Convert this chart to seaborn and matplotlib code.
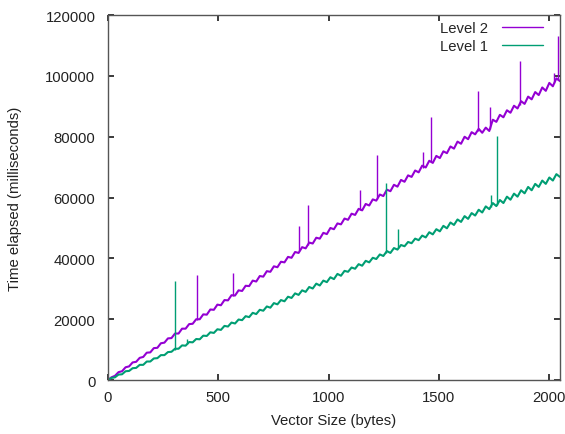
import matplotlib
import numpy as np
import pandas as pd
import seaborn as sns
from matplotlib import pyplot as plt

matplotlib.use("Agg")

# vector sizes sampled every 16 bytes
SIZES = list(range(0, 2049, 16))

LEVEL2_MS = [
    0, 900, 1400, 2600, 2900, 4200, 4500, 5800, 6000, 7300, 7600, 9000, 9100, 10500, 10600, 12100,
    12300, 13700, 13800, 15300, 15300, 16900, 16900, 18400, 18500, 20000, 20000, 21600, 21500, 23200,
    23100, 24800, 24600, 26300, 26200, 27900, 27800, 29500, 29300, 31000, 30900, 32700, 32400, 34200,
    34000, 35800, 35600, 37400, 37100, 38900, 38700, 40500, 40200, 42100, 41800, 43700, 43300, 45200,
    44900, 46800, 46500, 48400, 48000, 50000, 49600, 51500, 51200, 53100, 52700, 54700, 54300, 56300,
    55800, 57900, 57400, 59400, 59000, 61000, 60500, 62600, 62100, 64200, 63600, 65800, 65200, 67300,
    66800, 68900, 68300, 70500, 69900, 72100, 71400, 73700, 73000, 75200, 74600, 76800, 76100, 78400,
    77700, 80000, 79200, 81500, 80800, 82600, 81300, 83000, 81900, 85600, 84900, 87200, 86400, 88700,
    87900, 90200, 89300, 91700, 90800, 93200, 92300, 94700, 93700, 96200, 95100, 97700, 96600, 99200,
    98300,
]

LEVEL1_MS = [
    0, 700, 900, 1800, 1900, 2900, 3000, 3900, 4000, 5000, 5000, 6100, 6100, 7100, 7200, 8200,
    8200, 9200, 9300, 10300, 10300, 11400, 11300, 12500, 12400, 13500, 13400, 14600, 14500, 15700,
    15500, 16700, 16500, 17800, 17600, 18900, 18600, 19900, 19700, 21000, 20700, 22100, 21700, 23100,
    22800, 24200, 23800, 25300, 24900, 26300, 25900, 27400, 27000, 28500, 28000, 29500, 29000, 30600,
    30100, 31700, 31100, 32700, 32200, 33800, 33200, 34900, 34300, 35900, 35600, 37000, 36600, 38100,
    37600, 39200, 38700, 40200, 39800, 41300, 40800, 42400, 41800, 43400, 42900, 44400, 44000, 45400,
    45000, 46500, 46000, 47500, 46900, 48600, 47900, 49600, 48900, 50700, 49900, 51800, 51000, 52800,
    52000, 53900, 53000, 54900, 54100, 56000, 55100, 57100, 56200, 58200, 57200, 59200, 58200, 60300,
    59300, 61300, 60300, 62400, 61400, 63500, 62400, 64500, 63500, 65600, 64500, 66600, 65600, 67700,
    66800,
]

# outlier spikes
LEVEL2_SPIKE_X = [403, 565, 865, 906, 1144, 1220, 1426, 1464, 1676, 1729, 1865, 2020, 2038]
LEVEL2_SPIKE_BASE = [19700, 27600, 42300, 44300, 55900, 59600, 69700, 71600, 82000, 82400, 90300, 97800, 98800]
LEVEL2_SPIKE_TOP = [34500, 35200, 50700, 57600, 62400, 74000, 75000, 86600, 94900, 89900, 105000, 101000, 113000]

LEVEL1_SPIKE_X = [303, 360, 1262, 1315, 1738, 1762]
LEVEL1_SPIKE_BASE = [9900, 11800, 41700, 43400, 57000, 57700]
LEVEL1_SPIKE_TOP = [32450, 13500, 64650, 49640, 60800, 80100]

PURPLE = "#9400d3"
GREEN = "#009e73"
TEXT = "#222222"

sns.set_theme(style="ticks")
plt.rcParams["font.family"] = ["Liberation Sans", "DejaVu Sans"]

data = pd.DataFrame({"size": SIZES, "Level 2": LEVEL2_MS, "Level 1": LEVEL1_MS})

fig = plt.figure(figsize=(5.65, 4.35), dpi=100)
ax = fig.add_axes([0.191, 0.124, 0.800, 0.839])

sns.lineplot(data=data, x="size", y="Level 2", ax=ax, color=PURPLE, linewidth=1.5, label="Level 2")
ax.vlines(LEVEL2_SPIKE_X, LEVEL2_SPIKE_BASE, LEVEL2_SPIKE_TOP, color=PURPLE, linewidth=1.0)
sns.lineplot(data=data, x="size", y="Level 1", ax=ax, color=GREEN, linewidth=1.5, label="Level 1")
ax.vlines(LEVEL1_SPIKE_X, LEVEL1_SPIKE_BASE, LEVEL1_SPIKE_TOP, color=GREEN, linewidth=1.0)

ax.set_xlim(0, 2048)
ax.set_ylim(0, 120000)
ax.set_xticks([0, 500, 1000, 1500, 2000])
ax.set_yticks(np.arange(0, 120001, 20000))
ax.tick_params(direction="in", top=True, right=True, length=4, labelsize=10.7, colors=TEXT, pad=9)
ax.tick_params(axis="x", pad=7)
for spine in ax.spines.values():
    spine.set_visible(True)
    spine.set_color("#555555")
    spine.set_linewidth(1.0)

ax.set_xlabel("Vector Size (bytes)", fontsize=10.7, color=TEXT)
ax.set_ylabel("Time elapsed (milliseconds)", fontsize=10.7, color=TEXT)
ax.xaxis.set_label_coords(0.5, -0.09)
ax.yaxis.set_label_coords(-0.19, 0.5)

leg = ax.legend(loc="upper right", bbox_to_anchor=(0.976, 1.0), frameon=False, markerfirst=False,
                fontsize=10.7, handlelength=2.8, handletextpad=0.9, borderaxespad=0, labelspacing=0.3)
for line in leg.get_lines():
    line.set_linewidth(1.0)

fig.savefig("out.png", dpi=100)
